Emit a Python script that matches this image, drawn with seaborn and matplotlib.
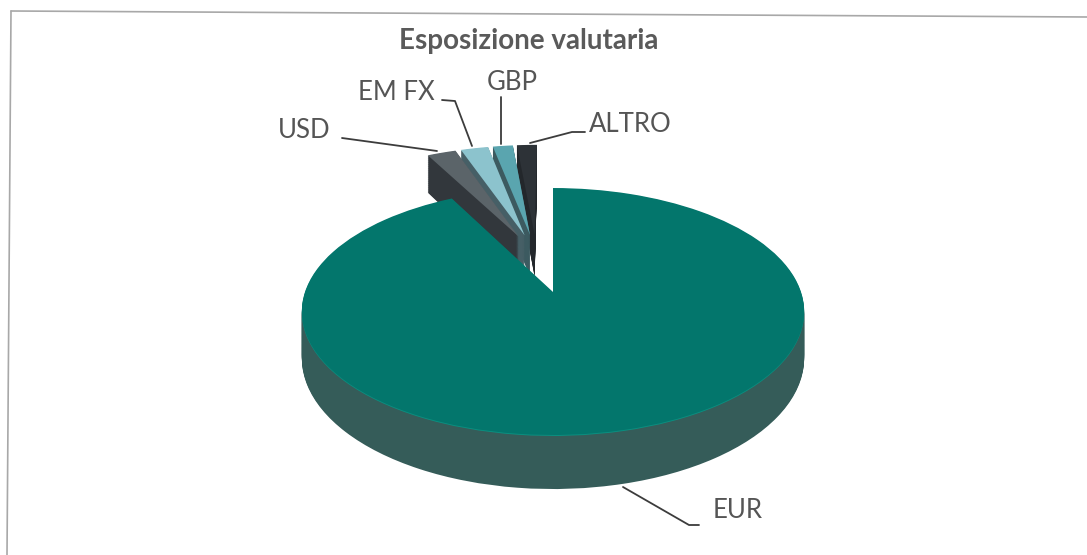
import matplotlib
matplotlib.use("Agg")
import matplotlib.pyplot as plt
import matplotlib.transforms as mtrans
import numpy as np
import seaborn as sns

labels = ["EUR", "USD", "EM FX", "GBP", "ALTRO"]
values = [92.3, 2.3, 2.2, 1.6, 1.6]
top_colors = ["#03766c", "#5b6469", "#8cc3cd", "#5aa5af", "#2d3237"]
side_colors = ["#355c59", "#32373c", "#465f66", "#3c5a60", "#23272b"]
rim_color = "#0a8f80"

# the small slices sit back from the big one
explode = [0.0, 0.20, 0.20, 0.20, 0.20]
group_center = (-0.07, 0.315)

# label text position, then leader line points
label_pos = {
    "USD": (304, 130),
    "EM FX": (396, 92),
    "GBP": (512, 83),
    "ALTRO": (630, 124),
    "EUR": (738, 511),
}
leaders = {
    "USD": ([342, 437], [138, 151]),
    "EM FX": ([442, 455, 472], [100, 101, 146]),
    "GBP": ([501, 501], [97, 144]),
    "ALTRO": ([585, 572, 530], [132, 132, 143]),
    "EUR": ([623, 689, 699], [487, 525, 525]),
}


class Tilted(mtrans.Transform):
    # unit circle -> picture pixels, with a bit of perspective
    input_dims = 2
    output_dims = 2
    is_separable = False
    has_inverse = False

    def __init__(self, z=0.0):
        super().__init__()
        self.z = z

    def transform_non_affine(self, xy):
        xy = np.asarray(xy)
        w = 1 + 0.158 * xy[:, 1]
        px = 553 + 248 * xy[:, 0] / w
        py = 292 - (120.4 * xy[:, 1] - 45.5 * self.z) / w
        return np.column_stack([px, py])


sns.set_theme(style="white")
plt.rcParams["font.family"] = ["Lato", "DejaVu Sans"]

fig = plt.figure(figsize=(10.87, 5.55), dpi=100)
ax = fig.add_axes([0, 0, 1, 1])

layers = np.linspace(1, 0, 56)
for k, z in enumerate(layers):
    for i in range(2):
        # i = 0 is the big slice, i = 1 the small group moved up
        center = (0, 0) if i == 0 else group_center
        wedges, _ = ax.pie(values, startangle=90, counterclock=False, radius=1,
                           explode=explode, center=center)
        for j, w in enumerate(wedges):
            if (j == 0) != (i == 0):
                w.remove()
                continue
            if z == 0:
                color = top_colors[j]
            elif j == 0 and z < 0.03:
                color = rim_color
            else:
                color = side_colors[j]
            w.set_facecolor(color)
            w.set_edgecolor("none")
            w.set_transform(Tilted(z) + ax.transData)
            # back to front: ALTRO ... USD, then EUR
            order = 100 if j == 0 else 5 - j
            w.set_zorder(order + k / 100)

ax.set_aspect("auto")
ax.set_xlim(0, 1087)
ax.set_ylim(555, 0)
ax.axis("off")

# scanned frame, a little skewed
ax.plot([11, 1087], [11, 17], color="#a8a8a8", lw=1.2, zorder=1)
ax.plot([11, 7], [11, 555], color="#a8a8a8", lw=1.2, zorder=1)

ax.text(529, 41, "Esposizione valutaria", ha="center", va="center",
        fontsize=20, fontweight="bold", color="#5a5a5a")

for lab in labels:
    x, y = label_pos[lab]
    ax.text(x, y, lab, ha="center", va="center", fontsize=18.5,
            color="#555555")
    ax.plot(leaders[lab][0], leaders[lab][1], color="#3c3c3c", lw=1.3, zorder=200)

fig.savefig("out.png", dpi=100)
